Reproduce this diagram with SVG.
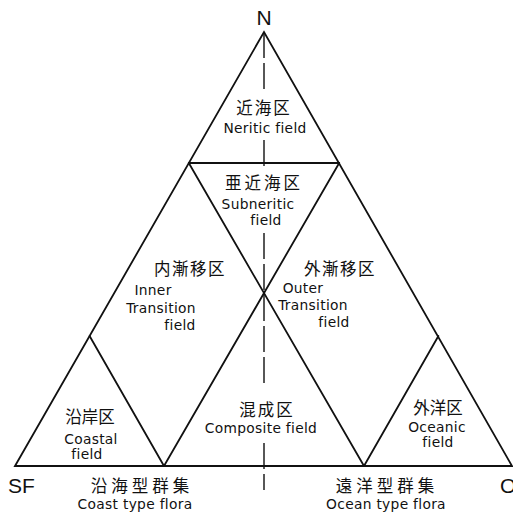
<svg xmlns="http://www.w3.org/2000/svg" width="513" height="517" viewBox="0 0 513 517">
<style>
.ln{stroke:#111;stroke-width:1.8;fill:none;stroke-linecap:round}
.ds{stroke:#111;stroke-width:1.4;fill:none;stroke-dasharray:26 5}
.jp{font-family:"Noto Sans CJK JP","Noto Sans CJK SC",sans-serif;font-size:16.5px;fill:#111;text-anchor:middle}
.en{font-family:"DejaVu Sans","Liberation Sans",sans-serif;font-size:13.8px;fill:#111;text-anchor:middle;letter-spacing:0.3px}
.lb{font-family:"Liberation Sans","DejaVu Sans",sans-serif;font-size:21px;fill:#111}
</style>
<rect width="513" height="517" fill="#fff"/>
<g id="connectors">
<polygon class="ln" points="15,466 264,32 512,466" stroke-linejoin="miter"/>
<line class="ln" x1="188.8" y1="163" x2="339.2" y2="163"/>
<line class="ln" x1="188.8" y1="163" x2="364" y2="466"/>
<line class="ln" x1="339.2" y1="163" x2="164" y2="466"/>
<line class="ln" x1="89.6" y1="336" x2="164" y2="466"/>
<line class="ln" x1="438.4" y1="336" x2="364" y2="466"/>
<line class="ds" x1="264" y1="32" x2="264" y2="92"/>
<line class="ds" x1="264" y1="140" x2="264" y2="168"/>
<line class="ds" x1="264" y1="233" x2="264" y2="383"/>
<line class="ds" x1="264" y1="443" x2="264" y2="490"/>
</g>
<g id="corner-N"><text class="lb" x="264" y="25" text-anchor="middle">N</text></g>
<g id="corner-SF"><text class="lb" x="8" y="493">SF</text></g>
<g id="corner-O"><text class="lb" x="500" y="493">O</text></g>
<g id="neritic">
<text class="jp" x="264" y="114" letter-spacing="2">近海区</text>
<text class="en" x="265" y="133">Neritic field</text>
</g>
<g id="subneritic">
<text class="jp" x="264" y="189" letter-spacing="3">亜近海区</text>
<text class="en" x="258" y="209">Subneritic</text>
<text class="en" x="266" y="225">field</text>
</g>
<g id="inner-transition">
<text class="jp" x="190" y="275" letter-spacing="1.5">内漸移区</text>
<text class="en" x="153" y="295" text-anchor="start">Inner</text>
<text class="en" x="161" y="313" text-anchor="start">Transition</text>
<text class="en" x="180" y="330" text-anchor="start">field</text>
</g>
<g id="outer-transition">
<text class="jp" x="340" y="275" letter-spacing="1.5">外漸移区</text>
<text class="en" x="303" y="293" text-anchor="start">Outer</text>
<text class="en" x="313" y="310" text-anchor="start">Transition</text>
<text class="en" x="334" y="327" text-anchor="start">field</text>
</g>
<g id="coastal">
<text class="jp" x="90" y="423">沿岸区</text>
<text class="en" x="91" y="444">Coastal</text>
<text class="en" x="87" y="459">field</text>
</g>
<g id="composite">
<text class="jp" x="267" y="416" letter-spacing="2">混成区</text>
<text class="en" x="261" y="433">Composite field</text>
</g>
<g id="oceanic">
<text class="jp" x="438" y="414">外洋区</text>
<text class="en" x="437" y="432">Oceanic</text>
<text class="en" x="438" y="447">field</text>
</g>
<g id="coast-flora">
<text class="jp" x="142" y="492" font-size="17" letter-spacing="4">沿海型群集</text>
<text class="en" x="135" y="509">Coast type flora</text>
</g>
<g id="ocean-flora">
<text class="jp" x="387" y="492" font-size="17" letter-spacing="4">遠洋型群集</text>
<text class="en" x="386" y="509">Ocean type flora</text>
</g>
</svg>
